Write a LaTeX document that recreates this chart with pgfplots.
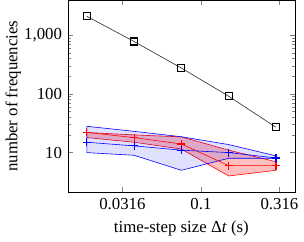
\documentclass[border=0pt]{standalone}
\usepackage{fontspec}
\setmainfont{Liberation Serif}
\usepackage{pgfplots}
\pgfplotsset{compat=1.18}
\begin{document}
\begin{tikzpicture}
\begin{axis}[
  scale only axis,
  width=135pt, height=114pt,
  xmode=log, ymode=log,
  /pgf/number format/assume math mode=true,
  xtick={0.0316,0.1,0.316},
  xticklabels={0.0316,0.1,0.316},
  xminorticks=false,
  ytick={10,100,1000},
  yticklabels={10,100,{1,000}},
  xlabel={time-step size Δ\textit{t} (s)},
  ylabel={number of frequencies},
  ylabel style={yshift=-5pt},
  tick align=inside,
  major tick length=3pt, minor tick length=1.7pt,
  every axis plot/.append style={line width=0.35pt},
]
% red band
\addplot[red, fill=red, fill opacity=0.25, draw opacity=1] coordinates {
 (0.01875,22) (0.0375,20) (0.075,18.5) (0.15,11) (0.3,7)
 (0.3,5) (0.15,4) (0.075,11.5) (0.0375,15) (0.01875,18)} -- cycle;
% blue band
\addplot[blue, fill=blue, fill opacity=0.12, draw opacity=1] coordinates {
 (0.01875,28) (0.0375,23) (0.075,18.6) (0.15,13.7) (0.3,8.8)
 (0.3,8) (0.15,8) (0.075,5) (0.0375,9) (0.01875,10)} -- cycle;
\addplot[black!85, mark=square, mark size=2.1pt, mark options={black, line width=0.7pt}] coordinates {
 (0.01875,2080) (0.0375,775) (0.075,274) (0.15,91) (0.3,27)};
\addplot[red, mark=+, mark size=2.4pt, mark options={line width=0.7pt}] coordinates {
 (0.01875,22) (0.0375,18) (0.075,14) (0.15,6) (0.3,6)};
\addplot[blue, mark=+, mark size=2.4pt, mark options={line width=0.7pt}] coordinates {
 (0.01875,15) (0.0375,13) (0.075,11) (0.15,10) (0.3,8.1)};
\end{axis}
\end{tikzpicture}
\end{document}
